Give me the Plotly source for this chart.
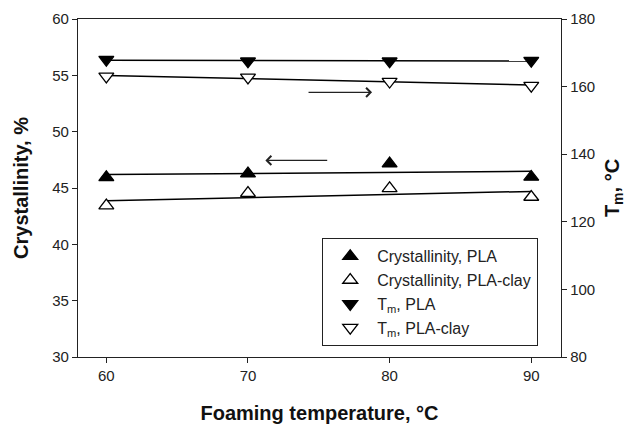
import numpy as np
import plotly.graph_objects as go

# ---- data ----
foam_temp = [60, 70, 80, 90]
cryst_pla = [45.95, 46.27, 47.16, 45.98]
cryst_pla_clay = [43.43, 44.55, 44.97, 44.20]
tm_pla = [168.0, 167.5, 167.5, 167.7]
tm_pla_clay = [163.0, 162.7, 161.5, 160.3]

x_ticks = [60, 70, 80, 90]
y_left_ticks = [30, 35, 40, 45, 50, 55, 60]
y_right_ticks = [80, 100, 120, 140, 160, 180]

FONT = "Liberation Sans, Arial, sans-serif"

fig = go.Figure()


def fit_line(xs, ys):
    p = np.polyfit(xs, ys, 1)
    xx = [min(xs), max(xs)]
    return xx, list(np.polyval(p, xx))


series = [
    ("Crystallinity, PLA", cryst_pla, "y", "triangle-up", "black"),
    ("Crystallinity, PLA-clay", cryst_pla_clay, "y", "triangle-up", "white"),
    ("T<sub>m</sub>, PLA", tm_pla, "y2", "triangle-down", "black"),
    ("T<sub>m</sub>, PLA-clay", tm_pla_clay, "y2", "triangle-down", "white"),
]

for name, ys, yax, sym, fill in series:
    lx, ly = fit_line(foam_temp, ys)
    fig.add_trace(go.Scatter(x=lx, y=ly, mode="lines", yaxis=yax,
                             line=dict(color="black", width=1.5),
                             showlegend=False, hoverinfo="skip"))

for name, ys, yax, sym, fill in series:
    fig.add_trace(go.Scatter(x=foam_temp, y=ys, mode="markers", name=name, yaxis=yax,
                             marker=dict(symbol=sym, size=13, color=fill,
                                         line=dict(color="black", width=1.3))))

axis_common = dict(showgrid=False, zeroline=False, showline=True, linecolor="#222",
                   linewidth=1.3, ticks="outside", ticklen=5, tickwidth=1.2,
                   tickcolor="#222", automargin=False,
                   tickfont=dict(family=FONT, size=15, color="#222"))

# the page body adds an 8px offset, so the figure is sized 633x418
fig.update_layout(
    width=633, height=418,
    margin=dict(l=70, r=80, t=11, b=69),
    paper_bgcolor="white", plot_bgcolor="white",
    font=dict(family=FONT, color="#111"),
    xaxis=dict(range=[58, 92.1], tickvals=x_ticks, mirror=True,
               title=dict(text="<b>Foaming temperature, °C</b>",
                          font=dict(family=FONT, size=20, color="#111"), standoff=22),
               **axis_common),
    yaxis=dict(range=[30, 60], tickvals=y_left_ticks,
               title=dict(text="<b>Crystallinity, %</b>",
                          font=dict(family=FONT, size=20, color="#111"), standoff=18),
               **axis_common),
    yaxis2=dict(range=[80, 180], tickvals=y_right_ticks, overlaying="y", side="right",
                title=dict(text="<b>T<sub>m</sub>, °C</b>",
                           font=dict(family=FONT, size=20, color="#111"), standoff=10),
                **axis_common),
    legend=dict(x=0.505, y=0.352, xanchor="left", yanchor="top",
                bgcolor="white", bordercolor="#222", borderwidth=1.3,
                font=dict(family=FONT, size=16, color="#222"),
                itemwidth=44, entrywidth=222, entrywidthmode="pixels",
                itemsizing="trace"),
    showlegend=True,
)

# arrows pointing to the relevant axis
fig.add_annotation(x=71.23, y=47.45, xref="x", yref="y", ax=75.7, ay=47.45,
                   axref="x", ayref="y", showarrow=True, arrowhead=4, arrowsize=1.6,
                   arrowwidth=1.1, arrowcolor="#222", text="")
fig.add_annotation(x=78.76, y=158.3, xref="x", yref="y2", ax=74.17, ay=158.3,
                   axref="x", ayref="y2", showarrow=True, arrowhead=4, arrowsize=1.6,
                   arrowwidth=1.1, arrowcolor="#222", text="")

fig.write_html("out.html")
